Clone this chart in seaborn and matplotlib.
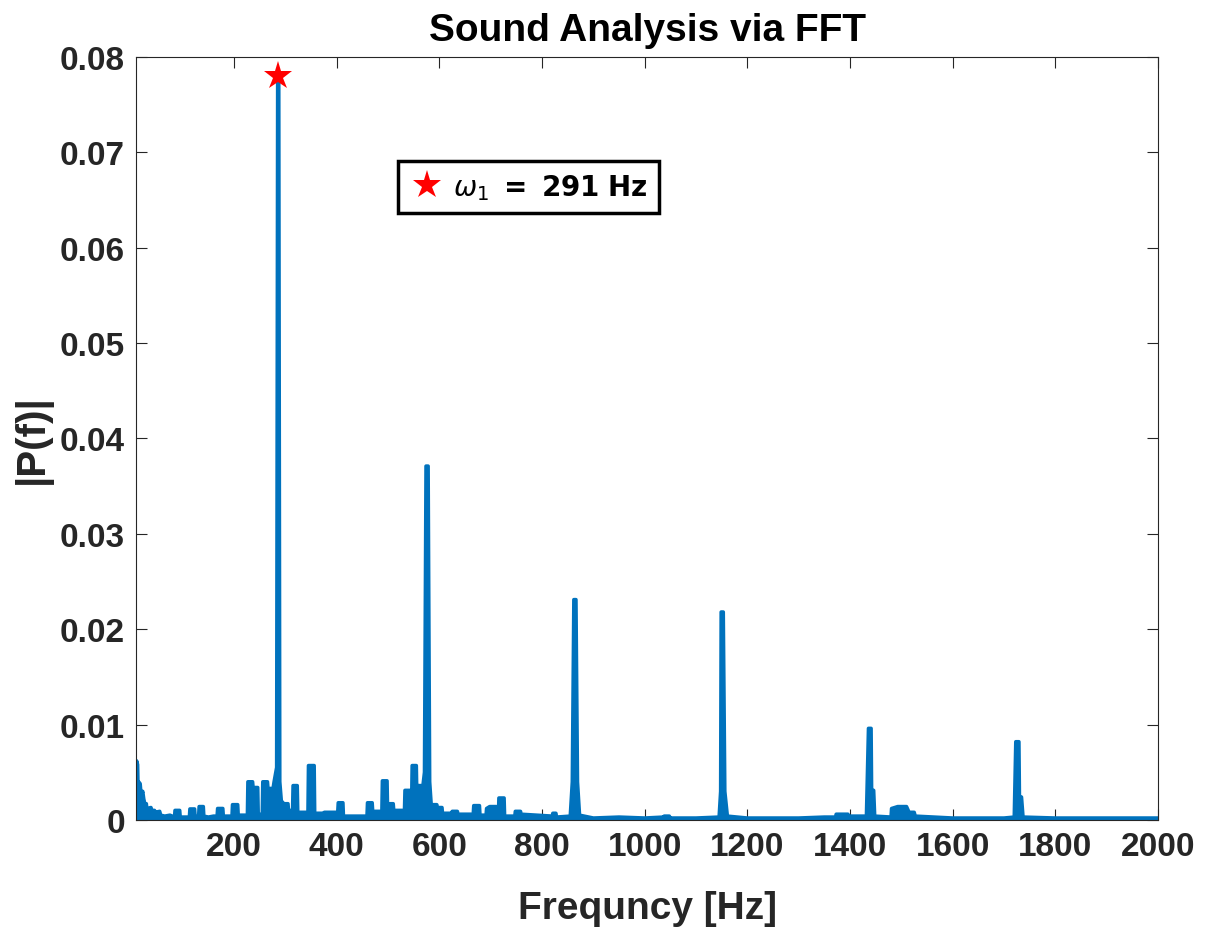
import matplotlib
matplotlib.use("Agg")
import matplotlib.pyplot as plt
import seaborn as sns
import numpy as np
import pandas as pd
from matplotlib.lines import Line2D

# ---- data ----
freq_hz = [9, 10, 12, 13, 14, 17, 19, 22, 24, 26, 29, 30, 38, 40, 45, 46, 55, 57, 65, 75,
           84, 85, 94, 95, 113, 114, 123, 124, 131, 132, 140, 141, 150, 160, 167, 168, 178, 179,
           196, 197, 207, 208, 226, 227, 236, 237, 246, 247, 255, 256, 265, 266, 276, 278, 283,
           285, 287, 289, 292, 297, 305, 306, 314, 315, 323, 324, 344, 345, 356, 357, 375,
           376, 402, 403, 412, 413, 459, 460, 469, 470, 488, 489, 498, 499, 502, 503, 510, 511,
           532, 533, 543, 544, 546, 547, 555, 556, 558, 559, 568, 571, 574, 578, 581, 584,
           595, 596, 605, 606, 624, 625, 635, 636, 666, 667, 678, 679, 691, 692, 698, 711, 712,
           715, 716, 726, 727, 747, 748, 758, 759, 790, 820, 821, 827, 828, 855, 859, 862, 866,
           869, 873, 900, 950, 1000, 1037, 1038, 1048, 1049, 1100, 1145, 1148, 1149, 1153,
           1156, 1161, 1200, 1250, 1300, 1350, 1372, 1373, 1396, 1397, 1432, 1436, 1441,
           1442, 1446, 1448, 1480, 1481, 1493, 1510, 1515, 1525, 1527, 1600, 1700, 1720,
           1723, 1729, 1730, 1734, 1737, 1800, 1900, 2000]
magnitude = [0.0035, 0.0062, 0.0058, 0.0030, 0.0040, 0.0038, 0.0025, 0.0030, 0.0022, 0.0017,
             0.0017, 0.0012, 0.0013, 0.0010, 0.0010, 0.0008, 0.0009, 0.0005, 0.0004, 0.0005,
             0.0003, 0.0010, 0.0010, 0.0003, 0.0003, 0.00115, 0.00115, 0.0004, 0.0004, 0.0014,
             0.0014, 0.0004, 0.0003, 0.0004, 0.0004, 0.0012, 0.0012, 0.0004, 0.0004, 0.0016,
             0.0016, 0.0005, 0.0005, 0.0040, 0.0040, 0.0034, 0.0034, 0.0006, 0.0006, 0.0040,
             0.0040, 0.0033, 0.0033, 0.0040, 0.0055,
             0.078, 0.078, 0.004, 0.0020, 0.0017, 0.0017, 0.0010, 0.0010, 0.0036, 0.0036,
             0.0008, 0.0008, 0.0057, 0.0057, 0.0007, 0.0007,
             0.0008, 0.0008, 0.0018, 0.0018, 0.0004, 0.0004, 0.0018, 0.0018, 0.0009, 0.0009,
             0.0041, 0.0041, 0.0010, 0.0010, 0.0017, 0.0017, 0.0010,
             0.0010, 0.0031, 0.0031, 0.0020, 0.0020, 0.0057, 0.0057, 0.0025, 0.0025, 0.0036,
             0.0036, 0.0050, 0.0371, 0.0371, 0.004, 0.0016,
             0.0016, 0.0013, 0.0013, 0.0007, 0.0007, 0.0009, 0.0009, 0.0006, 0.0006, 0.0015,
             0.0015, 0.0005, 0.0005, 0.0012, 0.0014, 0.0014, 0.0005,
             0.0005, 0.0023, 0.0023, 0.0004, 0.0004, 0.0009, 0.0009, 0.0006, 0.0005, 0.0004,
             0.0007, 0.0007, 0.0003, 0.0004, 0.0040, 0.0231, 0.0231,
             0.0040, 0.0005, 0.0002, 0.0003, 0.0002, 0.0003, 0.0004, 0.0004, 0.0002, 0.0002,
             0.0003, 0.0030, 0.0218, 0.0218,
             0.0030, 0.0004, 0.0002, 0.0002, 0.0002, 0.0003, 0.0003, 0.0006, 0.0006, 0.0004,
             0.0004, 0.0096, 0.0096,
             0.0031, 0.0031, 0.0004, 0.0003, 0.0012, 0.0014, 0.0014, 0.0008, 0.0008, 0.0004,
             0.0002, 0.0002, 0.0003,
             0.0082, 0.0082, 0.0024, 0.0024, 0.0003, 0.0002, 0.0002, 0.0002]
peak_freq = [286]
peak_mag = [0.078]
peak_label = r"$\boldsymbol{\omega_1}\ \mathbf{=\ 291\ Hz}$"
x_ticks = [200, 400, 600, 800, 1000, 1200, 1400, 1600, 1800, 2000]
y_ticks = [0, 0.01, 0.02, 0.03, 0.04, 0.05, 0.06, 0.07, 0.08]
title_text = "Sound Analysis via FFT"
x_label = "Frequncy [Hz]"
y_label = "|P(f)|"

# ---- styling ----
sns.set_theme(style="white")
plt.rcParams["font.family"] = ["Liberation Sans", "DejaVu Sans"]
plt.rcParams["mathtext.fontset"] = "dejavusans"

matlab_blue = "#0072BD"
text_col = "#262626"

fig = plt.figure(figsize=(12.06, 9.29), dpi=100)
ax = fig.add_axes([0.1128, 0.1163, 0.8474, 0.8213])

n = min(len(freq_hz), len(magnitude))
df = pd.DataFrame({"f": freq_hz[:n], "P": magnitude[:n]})
ax.fill_between(df["f"], df["P"], 0, color=matlab_blue, linewidth=0, zorder=2)
sns.lineplot(data=df, x="f", y="P", ax=ax, color=matlab_blue, linewidth=2.6,
             sort=False, estimator=None, legend=False, zorder=3)

ax.plot(peak_freq, peak_mag, linestyle="none", marker="*", color="red",
        markersize=21, markeredgewidth=0, clip_on=False, zorder=5)

ax.set_xlim(9, 2000)
ax.set_ylim(0, 0.08)
ax.set_xticks(x_ticks)
ax.set_yticks(y_ticks)
ax.set_yticklabels(["0" if v == 0 else f"{v:.2f}" for v in y_ticks])

for sp in ax.spines.values():
    sp.set_color(text_col)
    sp.set_linewidth(0.8)
    sp.set_visible(True)
    sp.set_zorder(6)

ax.tick_params(axis="both", which="major", direction="in", length=8, width=0.8,
               color=text_col, top=True, right=True, bottom=True, left=True,
               labelsize=24, labelcolor=text_col, pad=8)
for lbl in ax.get_xticklabels() + ax.get_yticklabels():
    lbl.set_fontweight("bold")

ax.set_title(title_text, fontsize=28, fontweight="bold", color="black", pad=12)
ax.set_xlabel(x_label, fontsize=28, fontweight="bold", color=text_col, labelpad=20)
ax.set_ylabel(y_label, fontsize=29, fontweight="bold", color=text_col, labelpad=6)

handle = Line2D([], [], linestyle="none", marker="*", color="red", markersize=21,
                markeredgewidth=0)
leg = ax.legend([handle], [peak_label], loc="upper left", bbox_to_anchor=(0.256, 0.864),
                fontsize=20, frameon=True, fancybox=False, handletextpad=0.3,
                borderpad=0.4, handlelength=1.3, borderaxespad=0)
leg.get_frame().set_edgecolor("black")
leg.get_frame().set_linewidth(2.5)
leg.get_frame().set_alpha(1)
for t in leg.get_texts():
    t.set_color("black")

fig.savefig("out.png", dpi=100)
